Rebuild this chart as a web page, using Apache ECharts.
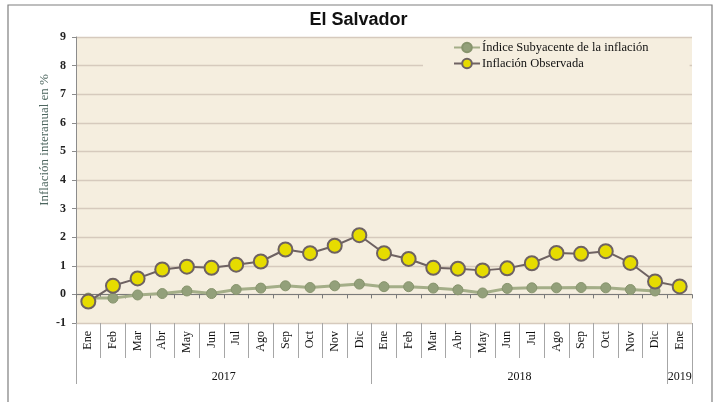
<!DOCTYPE html>
<html>
<head>
<meta charset="utf-8">
<script src="https://cdn.jsdelivr.net/npm/echarts@6/dist/echarts.min.js"></script>
<style>html,body{margin:0;padding:0;background:#fff}#c{width:717px;height:402px}</style>
</head>
<body>
<div id="c"></div>
<script>
const months = ['Ene','Feb','Mar','Abr','May','Jun','Jul','Ago','Sep','Oct','Nov','Dic',
                'Ene','Feb','Mar','Abr','May','Jun','Jul','Ago','Sep','Oct','Nov','Dic','Ene'];
const years = ['2017','2018','2019'];
const yearMid = [6, 18, 24.5];
const yearBounds = [0, 12, 24, 25];
const subyacente = [-0.13,-0.13,-0.02,0.03,0.12,0.03,0.17,0.22,0.30,0.24,0.30,0.36,
                    0.27,0.27,0.22,0.16,0.05,0.21,0.23,0.23,0.24,0.23,0.17,0.12,null];
const observada = [-0.25,0.30,0.56,0.87,0.97,0.93,1.04,1.15,1.57,1.44,1.70,2.07,
                   1.44,1.24,0.93,0.90,0.84,0.91,1.09,1.45,1.42,1.51,1.10,0.45,0.28];
const yTicks = {min:-1, max:9, interval:1};

const serif = '"Liberation Serif", "DejaVu Serif", serif';
const chart = echarts.init(document.getElementById('c'));
chart.setOption({
  animation: false,
  backgroundColor: '#ffffff',
  title: {
    text: 'El Salvador', left: 'center', top: 6,
    textStyle: {fontFamily: '"Liberation Sans", Arial, sans-serif', fontWeight: 'bold', fontSize: 18, color: '#111'}
  },
  graphic: [
    {type: 'rect', shape: {x: 8, y: 5, width: 704, height: 420}, style: {fill: 'none', stroke: '#7f7f7f', lineWidth: 1.2}, z: -10},
    {type: 'text', x: 45, y: 140, rotation: Math.PI/2,
     style: {text: 'Inflación interanual en %', fontFamily: serif, fontSize: 13, fill: '#4d665f', align: 'center', verticalAlign: 'middle'}}
  ],
  legend: {
    orient: 'vertical', left: 423, top: 39, itemGap: 3,
    padding: [2, 41, 2, 30],
    backgroundColor: '#F5EEDF',
    itemWidth: 26, itemHeight: 12,
    textStyle: {fontFamily: serif, fontSize: 12.5, color: '#111', padding: [0,0,0,-3]},
    data: ['Índice Subyacente de la inflación', 'Inflación Observada']
  },
  grid: {
    left: 76, right: 25, top: 37, bottom: 79, containLabel: false,
    show: true, backgroundColor: '#F5EEDF', borderWidth: 0
  },
  xAxis: [
    {
      type: 'category', data: months, position: 'bottom', boundaryGap: true,
      axisLine: {show: false, onZero: false},
      axisTick: {show: true, interval: 0, length: 35, lineStyle: {color: '#a6a6a6'}},
      axisLabel: {interval: 0, rotate: 90, margin: 8, fontFamily: serif, fontSize: 12, color: '#111'},
      splitLine: {show: false}
    },
    {
      type: 'value', min: 0, max: 25, position: 'bottom',
      axisLine: {show: false, onZero: false},
      axisTick: {show: true, customValues: yearBounds, length: 61, lineStyle: {color: '#a6a6a6'}},
      axisLabel: {customValues: yearMid, margin: 48, fontFamily: serif, fontSize: 12, color: '#111',
                  formatter: function (v) { return years[yearMid.indexOf(v)]; }},
      splitLine: {show: false}
    },
    {
      type: 'category', data: months, position: 'bottom', boundaryGap: true,
      axisLine: {show: true, onZero: true, lineStyle: {color: '#7a7a7a', width: 1}},
      axisTick: {show: true, interval: 0, length: 4, lineStyle: {color: '#7a7a7a'}},
      axisLabel: {show: false},
      splitLine: {show: false}
    }
  ],
  yAxis: {
    type: 'value', min: yTicks.min, max: yTicks.max, interval: yTicks.interval,
    axisLine: {show: true, lineStyle: {color: '#8c8c8c'}},
    axisTick: {show: true, length: 4, lineStyle: {color: '#8c8c8c'}},
    axisLabel: {margin: 10, fontFamily: serif, fontSize: 12, fontWeight: 'bold', color: '#222'},
    splitLine: {show: true, lineStyle: {color: '#D6CABD', width: 1.3}}
  },
  series: [
    {
      name: 'Índice Subyacente de la inflación', type: 'line', data: subyacente, xAxisIndex: 0,
      symbol: 'circle', symbolSize: 10, z: 3,
      lineStyle: {color: '#A4AE88', width: 3},
      itemStyle: {color: '#93A07A', borderColor: '#87946D', borderWidth: 1}
    },
    {
      name: 'Inflación Observada', type: 'line', data: observada, xAxisIndex: 0,
      symbol: 'circle', symbolSize: 14, z: 4,
      lineStyle: {color: '#6E6262', width: 2},
      itemStyle: {color: '#E6DC00', borderColor: '#6E6262', borderWidth: 2}
    }
  ]
});
</script>
</body>
</html>
